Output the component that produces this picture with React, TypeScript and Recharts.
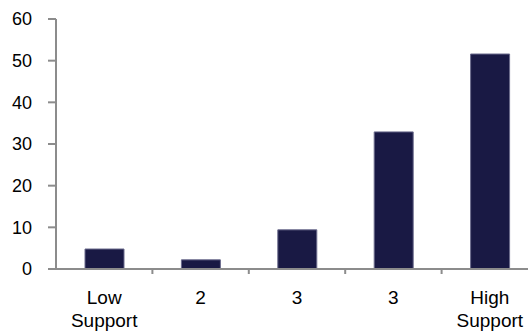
import React from 'react';
import { BarChart, Bar, XAxis, YAxis } from 'recharts';

const categories = ['Low\nSupport', '2', '3', '3', 'High\nSupport'];
const values = [4.8, 2.2, 9.4, 32.9, 51.6];
const yTicks = [0, 10, 20, 30, 40, 50, 60];

const data = categories.map((name, i) => ({ name, value: values[i] }));

const axisColor = '#8c8c8c';
const barColor = '#191944';

function CategoryTick(props: any) {
  const { x, y, payload, index } = props;
  const lines = String(payload.value).split('\n');
  const half = payload.offset || 48;
  const axisY = y - 22;
  return (
    <g>
      {index < categories.length - 1 && (
        <line x1={x + half} x2={x + half} y1={axisY} y2={axisY + 5} stroke={axisColor} strokeWidth={2} />
      )}
      <text x={x} y={y} textAnchor="middle" fill="#000" fontSize={19} fontFamily="'Liberation Sans', Arial, sans-serif">
        {lines.map((line, i) => (
          <tspan key={i} x={x} dy={i === 0 ? '0.71em' : 23}>
            {line}
          </tspan>
        ))}
      </text>
    </g>
  );
}

export default function App() {
  // fixed box the size of the window; the plot runs past the right edge like the original
  return (
    <div style={{ position: 'fixed', left: 0, top: 0, width: 528, height: 332, overflow: 'hidden', background: '#fff' }}>
      <BarChart width={540} height={332} data={data} margin={{ top: 19, right: 2, bottom: 0, left: 0 }}>
        <XAxis
          dataKey="name"
          height={63}
          axisLine={{ stroke: axisColor, strokeWidth: 2 }}
          tickLine={false}
          tickSize={5}
          tickMargin={17}
          interval={0}
          tick={<CategoryTick />}
        />
        <YAxis
          width={56}
          domain={[0, 60]}
          ticks={yTicks}
          interval={0}
          axisLine={{ stroke: axisColor, strokeWidth: 2 }}
          tickLine={{ stroke: axisColor, strokeWidth: 2 }}
          tickSize={8}
          tickMargin={16}
          tick={{ fill: '#000', fontSize: 18, fontFamily: "'Liberation Sans', Arial, sans-serif" }}
        />
        <Bar dataKey="value" fill={barColor} stroke="#6b6b8c" strokeWidth={1} barSize={39} isAnimationActive={false} />
      </BarChart>
    </div>
  );
}
